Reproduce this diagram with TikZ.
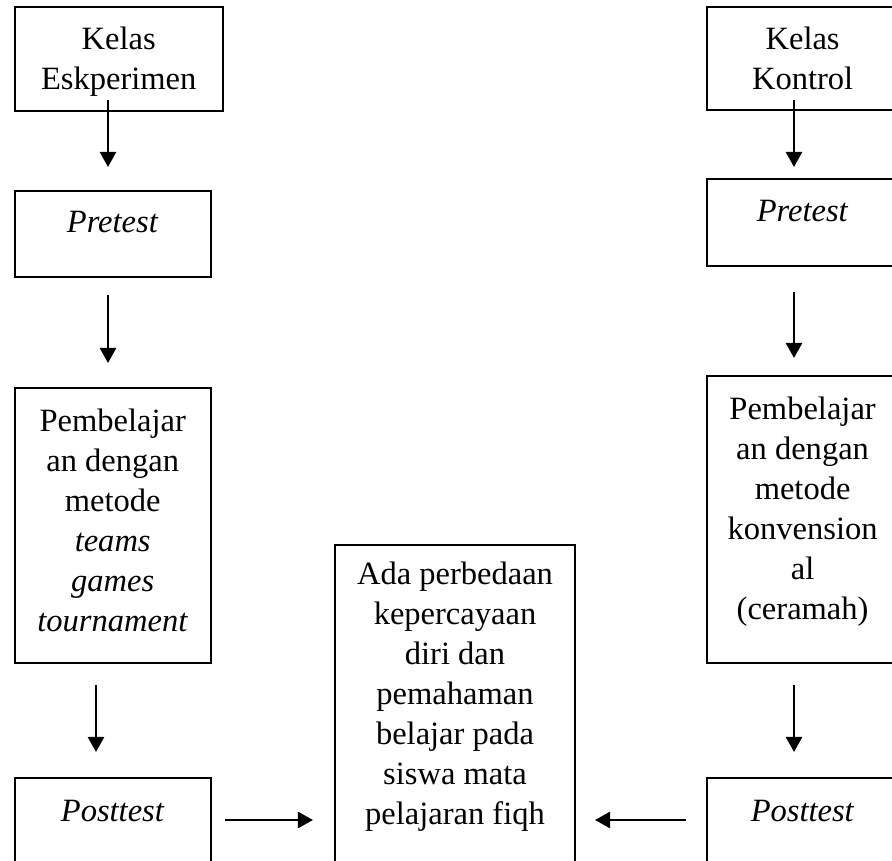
\documentclass[tikz,border=0pt]{standalone}
\usepackage{fontspec}
\setmainfont{Liberation Serif}
\usetikzlibrary{arrows.meta,fit}
\tikzset{
  box/.style ={draw=black, line width=0.8pt, inner sep=0pt},
  txt/.style ={align=center, anchor=north, inner sep=0pt,
               font=\fontsize{12}{14.76}\selectfont},
  ar/.style  ={-{Triangle[length=5.6pt,width=6pt]}, line width=0.9pt}
}

\begin{document}
\begin{tikzpicture}[x=0.369pt,y=-0.369pt]
\useasboundingbox (0,0) rectangle (892,861);

% kelas eksperimen
\node[box, fit={(14.7,7) (222.7,111)}] (eks) {};
\node[txt] (teks) at (118.7,26) {Kelas\\Eskperimen};
\node[box, fit={(14.7,191) (210.7,277)}] (preE) {};
\node[txt] (tpreE) at (112.7,211) {\textit{Pretest}};
\node[box, fit={(14.7,388) (210.7,663)}] (tgt) {};
\node[txt] (ttgt) at (112.7,408)
  {Pembelajar\\an dengan\\metode\\\textit{teams}\\\textit{games}\\\textit{tournament}};
\node[box, fit={(14.7,778) (210.7,880)}] (postE) {};
\node[txt] (tpostE) at (112.7,800) {\textit{Posttest}};

% hasil
\node[box, fit={(335,545) (575,880)}] (hasil) {};
\node[txt] (thasil) at (455,561)
  {Ada perbedaan\\kepercayaan\\diri dan\\pemahaman\\belajar pada\\siswa mata\\pelajaran fiqh};

% kelas kontrol
\node[box, fit={(706.7,7) (898.5,110)}] (kon) {};
\node[txt] (tkon) at (802.6,26) {Kelas\\Kontrol};
\node[box, fit={(706.7,179) (898.5,266)}] (preK) {};
\node[txt] (tpreK) at (802.6,200) {\textit{Pretest}};
\node[box, fit={(706.7,376) (898.5,663)}] (konv) {};
\node[txt] (tkonv) at (802.6,396)
  {Pembelajar\\an dengan\\metode\\konvension\\al\\(ceramah)};
\node[box, fit={(706.7,778) (898.5,880)}] (postK) {};
\node[txt] (tpostK) at (802.6,800) {\textit{Posttest}};

% arrow ends
\coordinate (e1) at (108,100);  \coordinate (e2) at (108,167);
\coordinate (e3) at (108,295);  \coordinate (e4) at (108,363);
\coordinate (e5) at (96,685);   \coordinate (e6) at (96,752);
\coordinate (k1) at (794,100);  \coordinate (k2) at (794,167);
\coordinate (k3) at (794,292);  \coordinate (k4) at (794,358);
\coordinate (k5) at (794,685);  \coordinate (k6) at (794,752);
\coordinate (h1) at (225,820);  \coordinate (h2) at (313,820);
\coordinate (h3) at (686,820);  \coordinate (h4) at (595,820);

\draw[ar] (e1) -- (e2);
\draw[ar] (e3) -- (e4);
\draw[ar] (e5) -- (e6);
\draw[ar] (k1) -- (k2);
\draw[ar] (k3) -- (k4);
\draw[ar] (k5) -- (k6);
\draw[ar] (h1) -- (h2);
\draw[ar] (h3) -- (h4);
\end{tikzpicture}
\end{document}
